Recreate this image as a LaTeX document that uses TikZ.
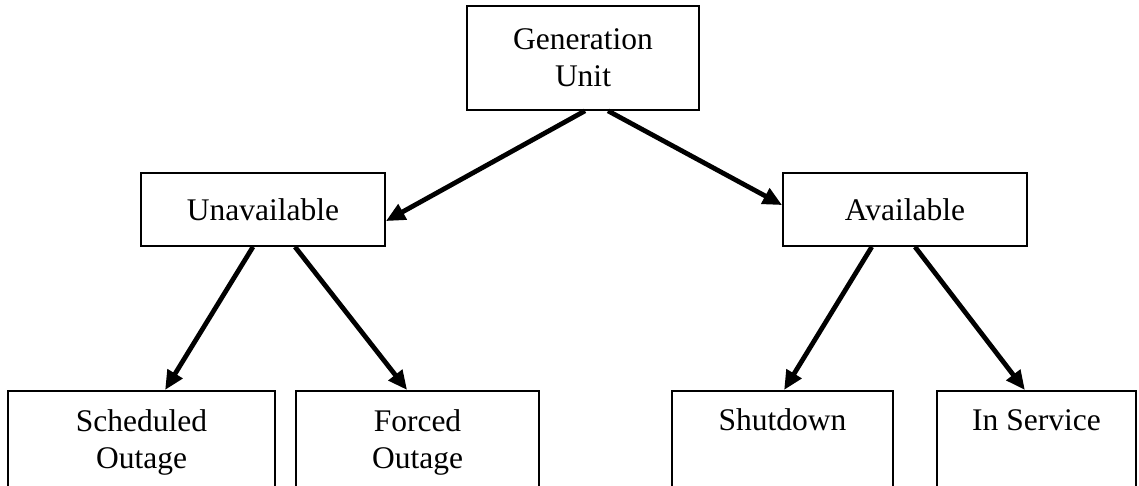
\documentclass[tikz,border=0pt]{standalone}
\usepackage{fontspec}
\setmainfont{Liberation Serif}
\usetikzlibrary{arrows.meta}
\begin{document}
\begin{tikzpicture}[x=0.025cm, y=-0.025cm,
    box/.style={draw, line width=1.2pt, align=center, font=\fontsize{22.4}{26.3}\selectfont},
    leaf/.style={box, anchor=north, inner sep=0pt, text height=#1, text depth=2.9cm-#1},
    leaf/.default=1cm,
    link/.style={line width=3.4pt, -{Triangle[length=0.48cm, width=0.42cm]}}]
        \useasboundingbox (0, 0) rectangle (1139, 486);
        \node[box, minimum width=5.8cm, minimum height=2.6cm] (gen) at (583, 58) {Generation\\Unit};
        \node[box, minimum width=6.1cm, minimum height=1.825cm] (unav) at (263, 209.5) {Unavailable};
        \node[box, minimum width=6.1cm, minimum height=1.825cm] (avail) at (905, 209.5) {Available};
        \node[leaf=1.95cm, minimum width=6.675cm] (sched) at (141.5, 390) {Scheduled\\Outage};
        \node[leaf=1.95cm, minimum width=6.075cm] (forced) at (417.5, 390) {Forced\\Outage};
        \node[leaf, minimum width=5.525cm] (shut) at (782.5, 390) {Shutdown};
        \node[leaf, minimum width=4.975cm] (inserv) at (1036.5, 390) {In Service};

        \draw[link] ([xshift=0.05cm]gen.south) -- ([yshift=-0.29cm]unav.east);
        \draw[link] ([xshift=0.625cm]gen.south) -- ([yshift=0.11cm]avail.west);
        \draw[link] ([xshift=-0.25cm]unav.south) -- ([xshift=0.59cm]sched.north);
        \draw[link] ([xshift=0.8cm]unav.south) -- ([xshift=-0.26cm]forced.north);
        \draw[link] ([xshift=-0.83cm]avail.south) -- ([xshift=0.04cm]shut.north);
        \draw[link] ([xshift=0.25cm]avail.south) -- ([xshift=-0.29cm]inserv.north);
      \end{tikzpicture}
\end{document}
